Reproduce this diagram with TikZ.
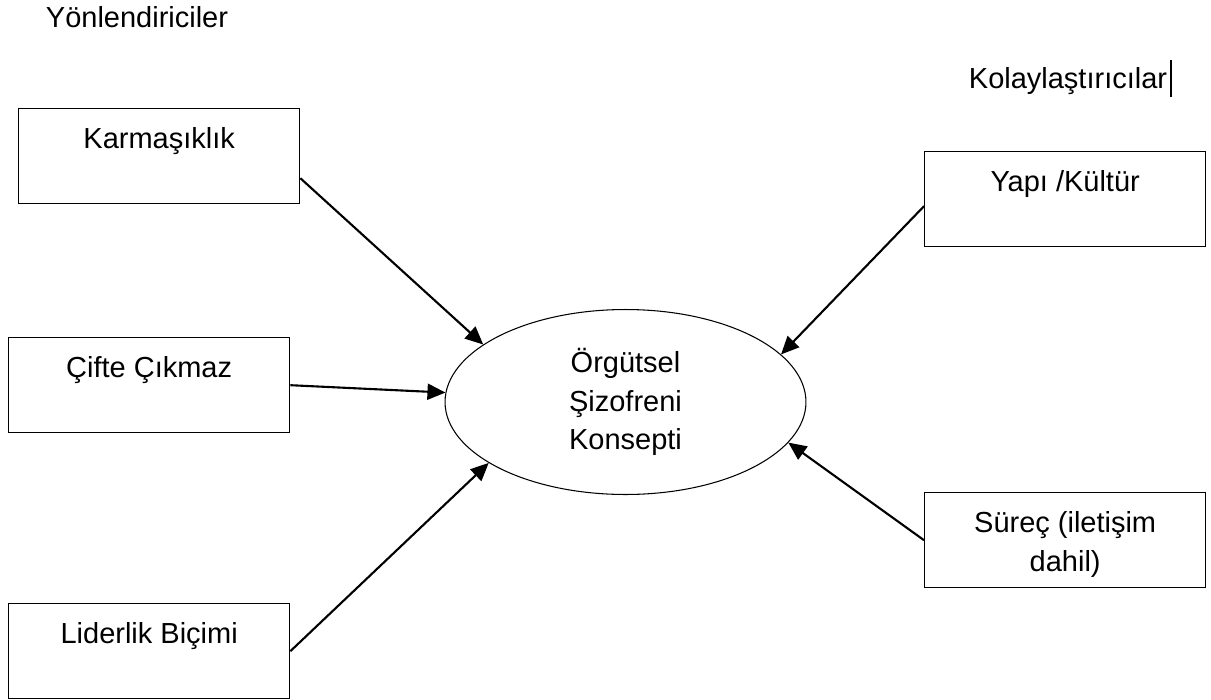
\documentclass[tikz,border=0pt]{standalone}
\usepackage{fontspec}
\setmainfont{Liberation Sans}
\usetikzlibrary{shapes.geometric,arrows.meta}

\tikzset{
  box/.style={draw, line width=0.8pt, anchor=north west, minimum width=5.62cm,
    inner xsep=0pt, inner ysep=0pt, text height=0.8cm, text depth=1.1cm, align=center},
  conn/.style={line width=1.2pt, -{Triangle[length=0.36cm,width=0.32cm]}},
}

\begin{document}
\begin{tikzpicture}[x=0.02cm, y=-0.02cm, font=\fontsize{16.5}{21.8}\selectfont]
\useasboundingbox (0,0) rectangle (1211,700);

\node[anchor=base] (yon) at (137,27) {Yönlendiriciler};
\node[anchor=base] (kol) at (1068,88) {Kolaylaştırıcılar};
\draw[line width=0.6pt] (1171,60) -- (1171,97);

\node[box] (kar) at (18,108) {Karmaşıklık};
\node[box] (cif) at (8,337) {Çifte Çıkmaz};
\node[box] (lid) at (8,603) {Liderlik Biçimi};
\node[box] (yap) at (924,151) {Yapı /Kültür};
\node[box, text height=1.57cm, text depth=0.33cm] (sur) at (924,492) {Süreç (iletişim\\dahil)};

\node[draw, ellipse, line width=0.6pt, minimum width=7.22cm, minimum height=3.7cm,
  inner sep=0pt, align=center] (org) at (625.5,402) {Örgütsel\\Şizofreni\\Konsepti};

\draw[conn] ([yshift=-0.44cm]kar.east) -- (org.158);
\draw[conn] (cif.east) -- (org.177);
\draw[conn] (lid.east) -- (org.204);
\draw[conn] ([yshift=-0.14cm]yap.west) -- (org.17);
\draw[conn] (sur.west) -- (org.346);
\end{tikzpicture}
\end{document}
